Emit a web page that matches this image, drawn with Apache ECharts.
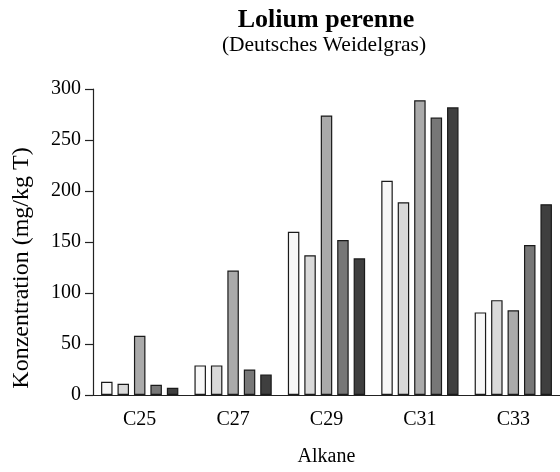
<!DOCTYPE html>
<html>
<head>
<meta charset="utf-8">
<script src="https://cdn.jsdelivr.net/npm/echarts@6/dist/echarts.min.js"></script>
<style>html,body{margin:0;padding:0;background:#fff}#c{width:560px;height:472px}</style>
</head>
<body>
<div id="c"></div>
<script>
const categories = ['C25', 'C27', 'C29', 'C31', 'C33'];
const series1 = [13, 29, 160, 210, 81];
const series2 = [11, 29, 137, 189, 93];
const series3 = [58, 122, 274, 289, 83];
const series4 = [10, 25, 152, 272, 147];
const series5 = [7, 20, 134, 282, 187];
const yTicks = [0, 50, 100, 150, 200, 250, 300];
const fills = ['#f7f7f7', '#d9d9d9', '#aaaaaa', '#777777', '#3f3f3f'];

const FONT = '"Liberation Serif","Times New Roman",serif';
const chart = echarts.init(document.getElementById('c'), null, {renderer: 'canvas'});
const allSeries = [series1, series2, series3, series4, series5];
chart.setOption({
  animation: false,
  backgroundColor: '#fff',
  textStyle: {fontFamily: FONT},
  graphic: [
    {type: 'text', x: 326, y: 20, style: {x: 0, y: 0, text: 'Lolium perenne', font: 'bold 26px ' + FONT, fill: '#000', textAlign: 'center', textVerticalAlign: 'middle'}},
    {type: 'text', x: 324, y: 45.5, style: {x: 0, y: 0, text: '(Deutsches Weidelgras)', font: '21.5px ' + FONT, fill: '#000', textAlign: 'center', textVerticalAlign: 'middle'}},
    {type: 'text', x: 22, y: 268, rotation: Math.PI / 2, style: {x: 0, y: 0, text: 'Konzentration (mg/kg T)', font: '24px ' + FONT, fill: '#000', textAlign: 'center', textVerticalAlign: 'middle'}}
  ],
  grid: {left: 93, right: 0, top: 89, bottom: 70, containLabel: false},
  xAxis: {
    type: 'category',
    data: categories,
    name: 'Alkane',
    nameLocation: 'middle',
    nameGap: 52,
    nameTextStyle: {fontSize: 20, color: '#000', fontFamily: FONT},
    axisLine: {lineStyle: {color: '#222', width: 1.2}},
    axisTick: {alignWithLabel: true, length: 7, lineStyle: {color: '#222', width: 1.2}},
    axisLabel: {fontSize: 20, color: '#000', margin: 15, fontFamily: FONT}
  },
  yAxis: {
    type: 'value',
    min: yTicks[0],
    max: yTicks[yTicks.length - 1],
    interval: 50,
    axisLine: {show: true, lineStyle: {color: '#222', width: 1.2}},
    axisTick: {show: true, length: 8, lineStyle: {color: '#222', width: 1.2}},
    axisLabel: {fontSize: 20, color: '#000', margin: 12, fontFamily: FONT},
    splitLine: {show: false}
  },
  series: allSeries.map((d, i) => ({
    type: 'bar',
    data: d,
    barWidth: 11.5,
    barGap: '43%',
    itemStyle: {color: fills[i], borderColor: '#1a1a1a', borderWidth: 1.2}
  }))
});
</script>
</body>
</html>
